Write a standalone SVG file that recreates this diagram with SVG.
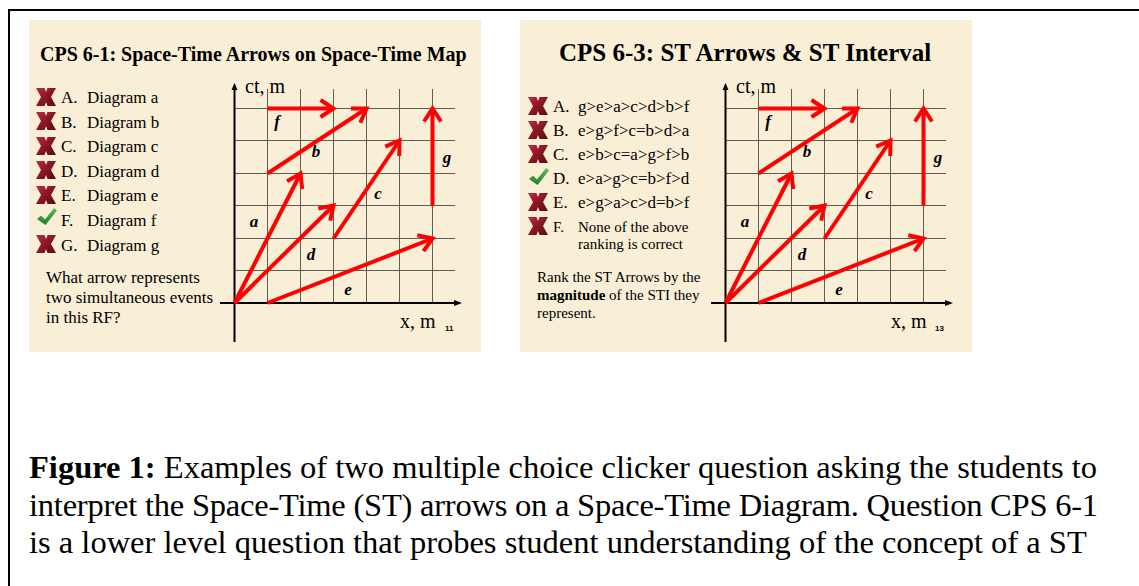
<svg xmlns="http://www.w3.org/2000/svg" width="1139" height="586" viewBox="0 0 1139 586">
<style>
.s{font-family:"Liberation Serif","Times New Roman",serif;fill:#000}
.title{font-weight:bold}
.ch{font-size:17px}
.q{font-size:17px}
.q2{font-size:15px}
.lbl{font-size:17px;font-weight:bold;font-style:italic}
.ax{font-size:20px}
.pg{font-family:"Liberation Sans",Arial,sans-serif;font-size:8px;font-weight:bold;fill:#000}
.grid{stroke:#3a3a3a;stroke-width:1;fill:none;opacity:0.8}
.axis{stroke:#000;stroke-width:2;fill:none}
.arr{stroke:#ff0000;stroke-width:4;fill:none;marker-end:url(#ah)}
.bg{fill:#f9eed6}
.cap{font-size:32.5px}
</style>
<defs>
<marker id="ah" viewBox="-16 -12 22 24" refX="0" refY="0" markerWidth="22" markerHeight="24" markerUnits="userSpaceOnUse" orient="auto">
<path d="M-13,-8.5 L0,0 L-13,8.5" fill="none" stroke="#ff0000" stroke-width="4"/>
</marker>
<linearGradient id="xg" x1="0" y1="0" x2="1" y2="1">
<stop offset="0" stop-color="#b3303a"/>
<stop offset="0.5" stop-color="#8a1620"/>
<stop offset="1" stop-color="#5a0a10"/>
</linearGradient>
<linearGradient id="cg" x1="0" y1="0" x2="0" y2="1">
<stop offset="0" stop-color="#5cc45c"/>
<stop offset="1" stop-color="#1d7a22"/>
</linearGradient>
<g id="xmark">
<path d="M0,0 H8.5 L10,4 L11.5,0 H20 L15,9 L20,18 H11.5 L10,14 L8.5,18 H0 L5,9 Z" fill="url(#xg)"/>
</g>
<g id="check">
<path d="M0,11 L4,7.5 L8,11.5 L17,0 L20,2.5 L8.5,17 Z" fill="url(#cg)"/>
</g>
</defs>

<g id="frame">
<line x1="9" y1="10" x2="1139" y2="10" stroke="#000" stroke-width="2"/>
<line x1="9" y1="9" x2="9" y2="586" stroke="#000" stroke-width="2"/>
</g>

<!-- Slide 1 -->
<g id="slide1">
<rect class="bg" x="29" y="20" width="452" height="332"/>
<text class="s title" x="40" y="61" font-size="20">CPS 6-1: Space-Time Arrows on Space-Time Map</text>
<g id="choices1">
<use href="#xmark" x="36" y="88"/>
<use href="#xmark" x="36" y="112"/>
<use href="#xmark" x="36" y="137"/>
<use href="#xmark" x="36" y="161"/>
<use href="#xmark" x="36" y="186"/>
<use href="#check" x="37" y="208"/>
<use href="#xmark" x="36" y="235"/>
<text class="s ch" x="61" y="103">A.</text><text class="s ch" x="87" y="103">Diagram a</text>
<text class="s ch" x="61" y="128">B.</text><text class="s ch" x="87" y="128">Diagram b</text>
<text class="s ch" x="61" y="152">C.</text><text class="s ch" x="87" y="152">Diagram c</text>
<text class="s ch" x="61" y="177">D.</text><text class="s ch" x="87" y="177">Diagram d</text>
<text class="s ch" x="61" y="201">E.</text><text class="s ch" x="87" y="201">Diagram e</text>
<text class="s ch" x="61" y="226">F.</text><text class="s ch" x="87" y="226">Diagram f</text>
<text class="s ch" x="61" y="251">G.</text><text class="s ch" x="87" y="251">Diagram g</text>
</g>
<g id="question1">
<text class="s q" x="46" y="283">What arrow represents</text>
<text class="s q" x="46" y="303">two simultaneous events</text>
<text class="s q" x="46" y="323">in this RF?</text>
</g>
<g id="map1">
<g class="grid">
<line x1="267.5" y1="89" x2="267.5" y2="303"/>
<line x1="300.5" y1="89" x2="300.5" y2="303"/>
<line x1="333.5" y1="89" x2="333.5" y2="303"/>
<line x1="366.5" y1="89" x2="366.5" y2="303"/>
<line x1="399.5" y1="89" x2="399.5" y2="303"/>
<line x1="432.5" y1="89" x2="432.5" y2="303"/>
<line x1="234" y1="270.5" x2="455" y2="270.5"/>
<line x1="234" y1="238.5" x2="455" y2="238.5"/>
<line x1="234" y1="205.5" x2="455" y2="205.5"/>
<line x1="234" y1="173.5" x2="455" y2="173.5"/>
<line x1="234" y1="140.5" x2="455" y2="140.5"/>
<line x1="234" y1="108.5" x2="455" y2="108.5"/>
</g>
<line class="axis" x1="234.5" y1="342" x2="234.5" y2="88"/>
<path d="M234.5,83 L231.5,90 L237.5,90 Z" fill="#000"/>
<line class="axis" x1="220" y1="303" x2="456" y2="303"/>
<path d="M462,303 L454,300 L454,306 Z" fill="#000"/>
<text class="s ax" x="245" y="93">ct, m</text>
<text class="s ax" x="400" y="328">x, m</text>
<text class="pg" x="445" y="331">11</text>
<g id="labels1">
<text class="s lbl" x="277" y="127" text-anchor="middle">f</text>
<text class="s lbl" x="316" y="157" text-anchor="middle">b</text>
<text class="s lbl" x="447" y="163" text-anchor="middle">g</text>
<text class="s lbl" x="378" y="199" text-anchor="middle">c</text>
<text class="s lbl" x="254" y="227" text-anchor="middle">a</text>
<text class="s lbl" x="311" y="260" text-anchor="middle">d</text>
<text class="s lbl" x="348" y="295" text-anchor="middle">e</text>
</g>
</g>
</g>
<g id="connectors1">
<line class="arr" x1="267.5" y1="108.5" x2="333.5" y2="108.5"/>
<line class="arr" x1="267.5" y1="173.5" x2="366.5" y2="108.5"/>
<line class="arr" x1="234.5" y1="303" x2="300.5" y2="173.5"/>
<line class="arr" x1="234.5" y1="303" x2="333.5" y2="205.5"/>
<line class="arr" x1="333.5" y1="238.5" x2="399.5" y2="140.5"/>
<line class="arr" x1="432.5" y1="205.5" x2="432.5" y2="108.5"/>
<line class="arr" x1="267.5" y1="303" x2="432.5" y2="238.5"/>
</g>

<!-- Slide 2 -->
<g id="slide2">
<rect class="bg" x="520" y="20" width="452" height="332"/>
<text class="s title" x="559" y="61" font-size="25">CPS 6-3: ST Arrows &amp; ST Interval</text>
<g id="choices2">
<use href="#xmark" x="528" y="97"/>
<use href="#xmark" x="528" y="121"/>
<use href="#xmark" x="528" y="145"/>
<use href="#check" x="529" y="168"/>
<use href="#xmark" x="528" y="193"/>
<use href="#xmark" x="528" y="217"/>
<text class="s ch" x="553" y="112">A.</text><text class="s ch" x="578" y="112">g&gt;e&gt;a&gt;c&gt;d&gt;b&gt;f</text>
<text class="s ch" x="553" y="136">B.</text><text class="s ch" x="578" y="136">e&gt;g&gt;f&gt;c=b&gt;d&gt;a</text>
<text class="s ch" x="553" y="160">C.</text><text class="s ch" x="578" y="160">e&gt;b&gt;c=a&gt;g&gt;f&gt;b</text>
<text class="s ch" x="553" y="184">D.</text><text class="s ch" x="578" y="184">e&gt;a&gt;g&gt;c=b&gt;f&gt;d</text>
<text class="s ch" x="553" y="208">E.</text><text class="s ch" x="578" y="208">e&gt;g&gt;a&gt;c&gt;d=b&gt;f</text>
<text class="s q2" x="553" y="232">F.</text><text class="s q2" x="578" y="232">None of the above</text>
<text class="s q2" x="578" y="249">ranking is correct</text>
</g>
<g id="question2">
<text class="s q2" x="537" y="282">Rank the ST Arrows by the</text>
<text class="s q2" x="537" y="300"><tspan font-weight="bold">magnitude</tspan> of the STI they</text>
<text class="s q2" x="537" y="318">represent.</text>
</g>
<g id="map2" transform="translate(491,0)">
<g class="grid">
<line x1="267.5" y1="89" x2="267.5" y2="303"/>
<line x1="300.5" y1="89" x2="300.5" y2="303"/>
<line x1="333.5" y1="89" x2="333.5" y2="303"/>
<line x1="366.5" y1="89" x2="366.5" y2="303"/>
<line x1="399.5" y1="89" x2="399.5" y2="303"/>
<line x1="432.5" y1="89" x2="432.5" y2="303"/>
<line x1="234" y1="270.5" x2="455" y2="270.5"/>
<line x1="234" y1="238.5" x2="455" y2="238.5"/>
<line x1="234" y1="205.5" x2="455" y2="205.5"/>
<line x1="234" y1="173.5" x2="455" y2="173.5"/>
<line x1="234" y1="140.5" x2="455" y2="140.5"/>
<line x1="234" y1="108.5" x2="455" y2="108.5"/>
</g>
<line class="axis" x1="234.5" y1="342" x2="234.5" y2="88"/>
<path d="M234.5,83 L231.5,90 L237.5,90 Z" fill="#000"/>
<line class="axis" x1="220" y1="303" x2="456" y2="303"/>
<path d="M462,303 L454,300 L454,306 Z" fill="#000"/>
<text class="s ax" x="245" y="93">ct, m</text>
<text class="s ax" x="400" y="328">x, m</text>
<text class="pg" x="444" y="331">13</text>
<g id="labels2">
<text class="s lbl" x="277" y="127" text-anchor="middle">f</text>
<text class="s lbl" x="316" y="157" text-anchor="middle">b</text>
<text class="s lbl" x="447" y="163" text-anchor="middle">g</text>
<text class="s lbl" x="378" y="199" text-anchor="middle">c</text>
<text class="s lbl" x="254" y="227" text-anchor="middle">a</text>
<text class="s lbl" x="311" y="260" text-anchor="middle">d</text>
<text class="s lbl" x="348" y="295" text-anchor="middle">e</text>
</g>
</g>
</g>
<g id="connectors2" transform="translate(491,0)">
<line class="arr" x1="267.5" y1="108.5" x2="333.5" y2="108.5"/>
<line class="arr" x1="267.5" y1="173.5" x2="366.5" y2="108.5"/>
<line class="arr" x1="234.5" y1="303" x2="300.5" y2="173.5"/>
<line class="arr" x1="234.5" y1="303" x2="333.5" y2="205.5"/>
<line class="arr" x1="333.5" y1="238.5" x2="399.5" y2="140.5"/>
<line class="arr" x1="432.5" y1="205.5" x2="432.5" y2="108.5"/>
<line class="arr" x1="267.5" y1="303" x2="432.5" y2="238.5"/>
</g>

<g id="caption">
<text class="s cap" x="29" y="478"><tspan font-weight="bold">Figure 1:</tspan> Examples of two multiple choice clicker question asking the students to</text>
<text class="s cap" x="29" y="516" textLength="1069" lengthAdjust="spacing">interpret the Space-Time (ST) arrows on a Space-Time Diagram. Question CPS 6-1</text>
<text class="s cap" x="29" y="553">is a lower level question that probes student understanding of the concept of a ST</text>
</g>
</svg>
